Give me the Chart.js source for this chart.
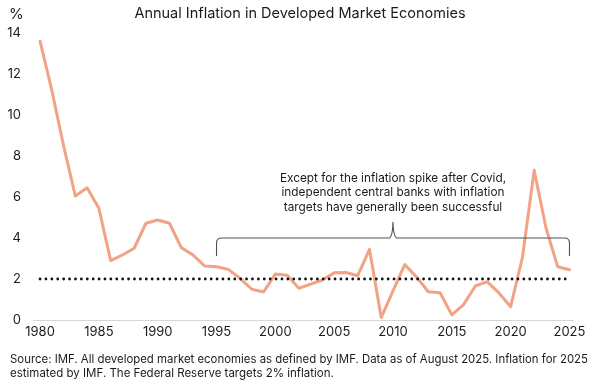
<!DOCTYPE html>
<html>
<head>
<meta charset="utf-8">
<script src="https://cdn.jsdelivr.net/npm/chart.js@4/dist/chart.umd.min.js"></script>
<style>
  html, body { margin: 0; padding: 0; background: #ffffff; }
  #wrap { width: 600px; height: 387px; position: relative; }
</style>
</head>
<body>
<div id="wrap"><canvas id="c" width="600" height="387"></canvas></div>
<script>
const years = [1980,1981,1982,1983,1984,1985,1986,1987,1988,1989,1990,1991,1992,1993,1994,1995,1996,1997,1998,1999,2000,2001,2002,2003,2004,2005,2006,2007,2008,2009,2010,2011,2012,2013,2014,2015,2016,2017,2018,2019,2020,2021,2022,2023,2024,2025];
const inflation = [13.6,11.2,8.5,6.05,6.45,5.45,2.9,3.17,3.5,4.72,4.88,4.72,3.53,3.17,2.63,2.6,2.47,2.03,1.5,1.37,2.24,2.18,1.55,1.75,1.95,2.3,2.32,2.16,3.45,0.12,1.42,2.7,2.1,1.38,1.33,0.25,0.75,1.66,1.87,1.32,0.65,3.05,7.3,4.5,2.6,2.45];
const targetRate = 2;
const xTickYears = [1980,1985,1990,1995,2000,2005,2010,2015,2020,2025];
const yTicks = [0,2,4,6,8,10,12,14];
const titleText = "Annual Inflation in Developed Market Economies";
const yUnit = "%";
const noteLines = ["Except for the inflation spike after Covid,", "independent central banks with inflation", "targets have generally been successful"];
const bracketYears = [1995, 2010, 2025];
const bracketLevel = 4;
const sourceLines = ["Source: IMF. All developed market economies as defined by IMF. Data as of August 2025. Inflation for 2025", "estimated by IMF. The Federal Reserve targets 2% inflation."];

const FONT = "Inter, 'Noto Sans', sans-serif";
const TEXT = "#1b1b1b";

const extrasPlugin = {
  id: 'extras',
  afterDraw(chart) {
    const ctx = chart.ctx;
    const xs = chart.scales.x, ys = chart.scales.y;
    ctx.save();
    // title
    ctx.fillStyle = TEXT;
    ctx.font = "14.5px " + FONT;
    ctx.textAlign = "center";
    ctx.textBaseline = "middle";
    ctx.fillText(titleText, 300, 14);
    // unit
    ctx.textAlign = "left";
    ctx.font = "15px " + FONT;
    ctx.fillText(yUnit, 9, 14);
    // bracket
    const xl = xs.getPixelForValue(bracketYears[0]);
    const xc = xs.getPixelForValue(bracketYears[1]);
    const xr = xs.getPixelForValue(bracketYears[2]);
    const yb = ys.getPixelForValue(bracketLevel);
    const r = 5, drop = 18;
    ctx.strokeStyle = "#4a525c";
    ctx.lineWidth = 1.1;
    ctx.beginPath();
    ctx.moveTo(xl, yb + drop);
    ctx.lineTo(xl, yb + r);
    ctx.quadraticCurveTo(xl, yb, xl + r, yb);
    ctx.lineTo(xc - 4, yb);
    ctx.quadraticCurveTo(xc - 0.5, yb - 0.5, xc, yb - 16);
    ctx.quadraticCurveTo(xc + 0.5, yb - 0.5, xc + 4, yb);
    ctx.lineTo(xr - r, yb);
    ctx.quadraticCurveTo(xr, yb, xr, yb + r);
    ctx.lineTo(xr, yb + drop);
    ctx.stroke();
    // note text
    ctx.fillStyle = TEXT;
    ctx.font = "11.8px " + FONT;
    ctx.textAlign = "center";
    ctx.textBaseline = "middle";
    noteLines.forEach((t, i) => ctx.fillText(t, xc, yb - 60 + i * 14.5));
    // source
    ctx.textAlign = "left";
    ctx.font = "11.5px " + FONT;
    ctx.fillText(sourceLines[0], 10, 359.5, 578);
    ctx.fillText(sourceLines[1], 10, 374);
    ctx.restore();
  }
};

new Chart(document.getElementById('c'), {
  type: 'line',
  data: {
    datasets: [
      {
        label: 'Inflation',
        data: years.map((y, i) => ({x: y, y: inflation[i]})),
        borderColor: '#f2a285',
        borderWidth: 3,
        pointRadius: 0,
        tension: 0,
        borderJoinStyle: 'round',
        borderCapStyle: 'round',
        order: 1
      },
      {
        label: 'Target',
        data: [{x: years[0], y: targetRate}, {x: years[years.length - 1], y: targetRate}],
        borderColor: '#111111',
        borderWidth: 2.8,
        borderDash: [0, 5.9],
        borderCapStyle: 'round',
        pointRadius: 0,
        order: 0
      }
    ]
  },
  options: {
    responsive: false,
    animation: false,
    devicePixelRatio: 1,
    layout: { padding: { top: 33, right: 27, bottom: 45, left: 0 } },
    plugins: { legend: { display: false }, tooltip: { enabled: false }, title: { display: false } },
    scales: {
      x: {
        type: 'linear',
        min: 1979.4,
        max: 2025.3,
        afterBuildTicks: (s) => { s.ticks = xTickYears.map(v => ({value: v})); },
        afterFit: (s) => { s.height = 22; s.paddingLeft = 0; s.paddingRight = 0; },
        grid: { display: false, drawTicks: false },
        border: { display: true, color: '#d6d6d6', width: 1 },
        ticks: { color: TEXT, font: { family: FONT, size: 13 }, padding: 4, maxRotation: 0, autoSkip: false,
                 callback: (v) => String(v) }
      },
      y: {
        min: 0,
        max: 14,
        afterBuildTicks: (s) => { s.ticks = yTicks.map(v => ({value: v})); },
        afterFit: (s) => { s.width = 33; },
        grid: { display: false, drawTicks: false },
        border: { display: false },
        ticks: { color: TEXT, font: { family: FONT, size: 13 }, padding: 12 }
      }
    }
  },
  plugins: [extrasPlugin]
});
</script>
</body>
</html>
